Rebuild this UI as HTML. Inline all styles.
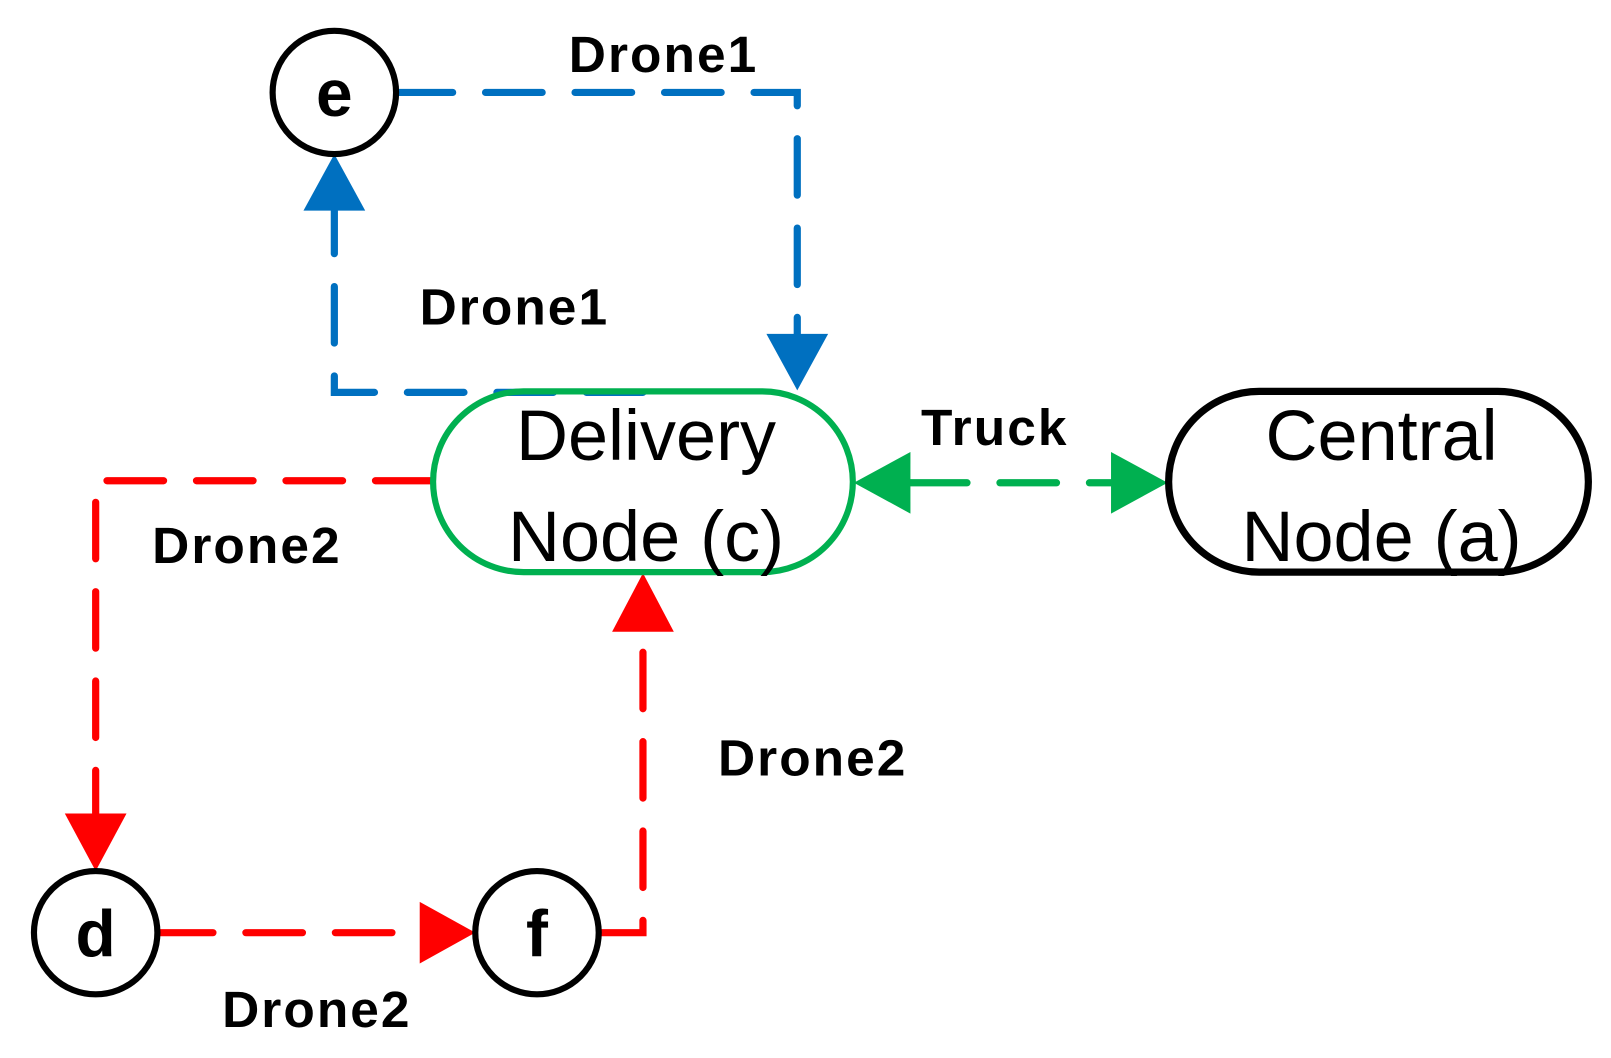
<!DOCTYPE html>
<html><head><style>html,body{margin:0;padding:0;background:#fff}svg{display:block}</style></head><body>
<svg width="1611" height="1058" viewBox="0 0 1566 1030" preserveAspectRatio="none" xmlns="http://www.w3.org/2000/svg" font-family="Liberation Sans, sans-serif">
<g fill="none" stroke-width="7" stroke-linecap="round" stroke-dasharray="55 32">
<path d="M385 90 H775 V330" stroke="#0070c0"/>
<path d="M625 382 H325 V205" stroke="#0070c0"/>
<path d="M420 468 H93 V795" stroke="#ff0000"/>
<path d="M152 908 H410" stroke="#ff0000"/>
<path d="M582 908 H625 V615" stroke="#ff0000"/>
<path d="M885 470 H1080" stroke="#00b050"/>
</g>
<g stroke="none">
<polygon points="745,325 805,325 775,380" fill="#0070c0"/>
<polygon points="295,205 355,205 325,150" fill="#0070c0"/>
<polygon points="63,792 123,792 93,848" fill="#ff0000"/>
<polygon points="408,878 408,938 462,908" fill="#ff0000"/>
<polygon points="595,615 655,615 625,558" fill="#ff0000"/>
<polygon points="885,440 885,500 830,470" fill="#00b050"/>
<polygon points="1080,440 1080,500 1135,470" fill="#00b050"/>
</g>
<rect x="421" y="381" width="408" height="176" rx="88" fill="none" stroke="#00b050" stroke-width="6"/>
<rect x="1136" y="381" width="408" height="176" rx="88" fill="none" stroke="#000" stroke-width="7"/>
<g fill="#fff" stroke="#000" stroke-width="6">
<circle cx="325" cy="90" r="60"/><circle cx="93" cy="908" r="60"/><circle cx="522" cy="908" r="60"/>
</g>
<g font-weight="bold" font-size="64" text-anchor="middle" fill="#000">
<text x="325" y="113">e</text><text x="93" y="931">d</text><text x="522" y="931">f</text>
</g>
<g font-weight="bold" font-size="50" text-anchor="middle" fill="#000" letter-spacing="2">
<text x="645" y="70">Drone1</text>
<text x="500" y="316">Drone1</text>
<text x="967" y="433">Truck</text>
<text x="240" y="548">Drone2</text>
<text x="790" y="755">Drone2</text>
<text x="308" y="1000">Drone2</text>
</g>
<g font-size="70" text-anchor="middle" fill="#000">
<text x="628" y="448">Delivery</text><text x="628" y="546">Node (c)</text>
<text x="1343" y="448">Central</text><text x="1343" y="546">Node (a)</text>
</g>
</svg>
</body></html>
